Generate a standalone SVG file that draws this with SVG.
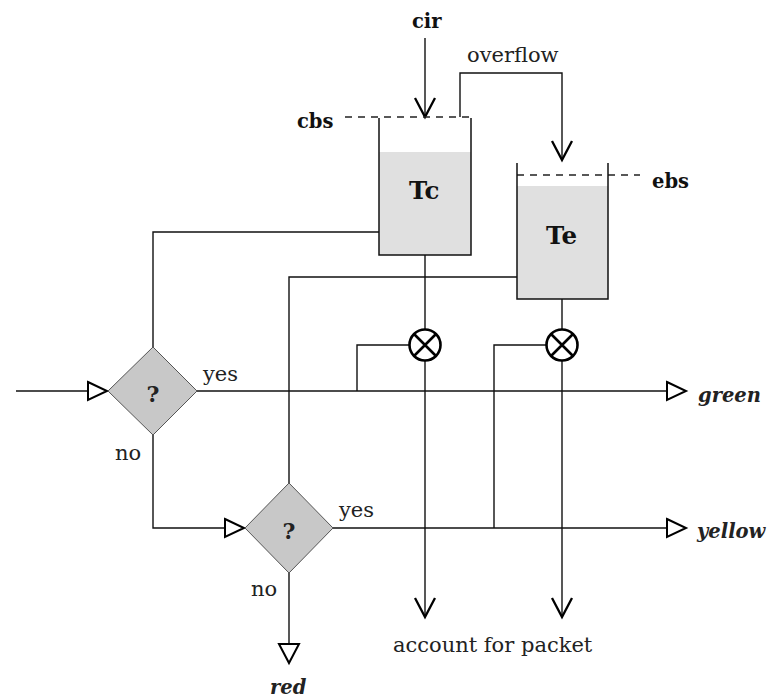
<svg xmlns="http://www.w3.org/2000/svg" width="776" height="700" viewBox="0 0 776 700">
  <style>
    .ln { fill: none; stroke: #111; stroke-width: 1.4; }
    .dash { fill: none; stroke: #222; stroke-width: 1.3; stroke-dasharray: 7 6; }
    .wall { fill: none; stroke: #111; stroke-width: 1.5; }
    .level { fill: #e0e0e0; stroke: none; }
    .dia { fill: #c8c8c8; stroke: #555; stroke-width: 1; }
    .mix { fill: #fff; stroke: #000; stroke-width: 2.6; }
    .vhead { fill: none; stroke: #000; stroke-width: 2.3; }
    .thead { fill: #fff; stroke: #000; stroke-width: 2; }
    text { font-family: "DejaVu Serif", "Liberation Serif", serif; fill: #222; }
    .t { font-size: 21px; }
    .b { font-size: 19.5px; font-weight: bold; fill: #111; }
    .big { font-size: 24.5px; font-weight: bold; fill: #111; }
    .out { font-size: 19.5px; font-weight: bold; font-style: italic; fill: #222; }
    .q { font-size: 22px; font-weight: bold; fill: #222; }
  </style>
  <defs>
    <!-- open V arrowhead pointing down, tip at origin -->
    <path id="vdown" class="vhead" d="M -10 -19 L 0 0 L 10 -19"/>
    <!-- hollow triangle pointing right, tip at origin -->
    <path id="tright" class="thead" d="M -19 -9 L 0 0 L -19 9 Z"/>
    <!-- hollow triangle pointing down, tip at origin -->
    <path id="tdown" class="thead" d="M -10 -19 L 0 0 L 10 -19 Z"/>
  </defs>

  <g id="connectors">
    <!-- cir feed into Tc -->
    <line class="ln" x1="425" y1="38" x2="425" y2="117"/>
    <use href="#vdown" x="425" y="117"/>
    <!-- overflow from Tc to Te -->
    <polyline class="ln" points="460,117 460,73 562,73 562,160"/>
    <use href="#vdown" x="562" y="160"/>
    <!-- Tc level to first test -->
    <polyline class="ln" points="379,232 153,232 153,347"/>
    <!-- Te level to second test -->
    <polyline class="ln" points="517,277 289,277 289,483"/>
    <!-- packet input -->
    <line class="ln" x1="16" y1="391" x2="88" y2="391"/>
    <use href="#tright" x="107" y="391"/>
    <!-- first test: no branch -->
    <polyline class="ln" points="153,435 153,528 225,528"/>
    <use href="#tright" x="244" y="528"/>
    <!-- green output -->
    <line class="ln" x1="197" y1="391" x2="667" y2="391"/>
    <use href="#tright" x="686" y="391"/>
    <!-- yellow output -->
    <line class="ln" x1="333" y1="528" x2="667" y2="528"/>
    <use href="#tright" x="686" y="528"/>
    <!-- red output -->
    <line class="ln" x1="289" y1="573" x2="289" y2="644"/>
    <use href="#tdown" x="289" y="663"/>
    <!-- Tc drain through mixer to accounting -->
    <line class="ln" x1="425" y1="255" x2="425" y2="329"/>
    <line class="ln" x1="425" y1="361" x2="425" y2="617"/>
    <use href="#vdown" x="425" y="617"/>
    <polyline class="ln" points="409,345 357,345 357,391"/>
    <!-- Te drain through mixer to accounting -->
    <line class="ln" x1="562" y1="299" x2="562" y2="329"/>
    <line class="ln" x1="562" y1="361" x2="562" y2="617"/>
    <use href="#vdown" x="562" y="617"/>
    <polyline class="ln" points="546,345 494,345 494,528"/>
  </g>

  <g id="cir-label">
    <text class="b" x="412" y="28">cir</text>
  </g>
  <g id="overflow-label">
    <text class="t" x="467" y="62">overflow</text>
  </g>

  <g id="bucket-tc">
    <rect class="level" x="379" y="152" width="92" height="103"/>
    <line class="dash" x1="345" y1="117" x2="471" y2="117"/>
    <polyline class="wall" points="379,118 379,255 471,255 471,118"/>
    <text class="b" x="297" y="128">cbs</text>
    <text class="big" x="409" y="199">Tc</text>
  </g>

  <g id="bucket-te">
    <rect class="level" x="517" y="186" width="91" height="113"/>
    <line class="dash" x1="517" y1="175" x2="640" y2="175"/>
    <polyline class="wall" points="517,163 517,299 608,299 608,163"/>
    <text class="b" x="652" y="188">ebs</text>
    <text class="big" x="546" y="244">Te</text>
  </g>

  <g id="mixer-tc">
    <circle class="mix" cx="425" cy="345" r="15.5"/>
    <path class="mix" d="M 414 334 L 436 356 M 436 334 L 414 356"/>
  </g>
  <g id="mixer-te">
    <circle class="mix" cx="562" cy="345" r="15.5"/>
    <path class="mix" d="M 551 334 L 573 356 M 573 334 L 551 356"/>
  </g>

  <g id="test-committed">
    <polygon class="dia" points="153,347 197,391 153,435 108,391"/>
    <text class="q" x="153" y="402" text-anchor="middle">?</text>
    <text class="t" x="203" y="381">yes</text>
    <text class="t" x="115" y="460">no</text>
  </g>

  <g id="test-excess">
    <polygon class="dia" points="289,483 333,528 289,573 245,528"/>
    <text class="q" x="289" y="539" text-anchor="middle">?</text>
    <text class="t" x="339" y="517">yes</text>
    <text class="t" x="251" y="596">no</text>
  </g>

  <g id="out-green">
    <text class="out" x="698" y="402">green</text>
  </g>
  <g id="out-yellow">
    <text class="out" x="697" y="538">yellow</text>
  </g>
  <g id="out-red">
    <text class="out" x="270" y="694">red</text>
  </g>
  <g id="accounting">
    <text class="t" x="393" y="652">account for packet</text>
  </g>
</svg>
